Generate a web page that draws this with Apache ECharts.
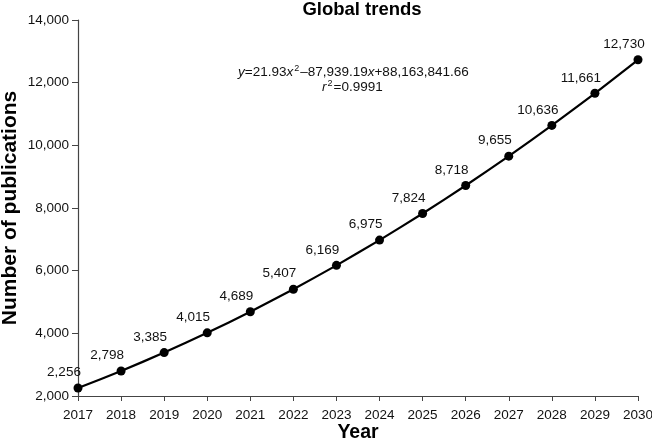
<!DOCTYPE html>
<html>
<head>
<meta charset="utf-8">
<script src="https://cdn.jsdelivr.net/npm/echarts@6/dist/echarts.min.js"></script>
<style>html,body{margin:0;padding:0;background:#fff}#c{width:652px;height:444px}</style>
</head>
<body>
<div id="c"></div>
<script>
const years = ['2017','2018','2019','2020','2021','2022','2023','2024','2025','2026','2027','2028','2029','2030'];
const publications = [2256, 2798, 3385, 4015, 4689, 5407, 6169, 6975, 7824, 8718, 9655, 10636, 11661, 12730];
const yMin = 2000, yMax = 14000, yStep = 2000;

const chart = echarts.init(document.getElementById('c'));
const font = 'Liberation Sans, Arial, sans-serif';
chart.setOption({
  animation: false,
  backgroundColor: '#fff',
  title: {
    text: 'Global trends', left: 357, top: -5, textAlign: 'center',
    textStyle: { fontFamily: font, fontWeight: 'bold', fontSize: 18.5, color: '#000' }
  },
  grid: { left: 78, right: 14, top: 20, bottom: 48, containLabel: false, outerBoundsMode: 'none' },
  xAxis: {
    type: 'category', data: years, boundaryGap: false,
    name: 'Year', nameLocation: 'middle', nameGap: 27, nameMoveOverlap: false,
    nameTextStyle: { fontFamily: font, fontWeight: 'bold', fontSize: 19.5, color: '#000' },
    axisLine: { lineStyle: { color: '#444', width: 1.2 } },
    axisTick: { show: true, length: 5, lineStyle: { color: '#444' }, alignWithLabel: true },
    axisLabel: { fontFamily: font, fontSize: 13.5, color: '#111', margin: 12, interval: 0 },
    splitLine: { show: false }
  },
  yAxis: {
    type: 'value', min: yMin, max: yMax, interval: yStep,
    name: 'Number of publications', nameLocation: 'middle', nameGap: 57, nameRotate: 90, nameMoveOverlap: false,
    nameTextStyle: { fontFamily: font, fontWeight: 'bold', fontSize: 21, color: '#000' },
    axisLine: { show: true, lineStyle: { color: '#444', width: 1.2 } },
    axisTick: { show: true, length: 6, lineStyle: { color: '#444' } },
    axisLabel: { fontFamily: font, fontSize: 13.5, color: '#111', margin: 9,
      formatter: v => v.toLocaleString('en-US') },
    splitLine: { show: false }
  },
  graphic: [{
    type: 'text', left: 238, top: 64,
    style: {
      text: '{i|y}=21.93{i|x}{s|2}–87,939.19{i|x}+88,163,841.66',
      fontFamily: font, fontSize: 13.5, fill: '#111',
      rich: {
        i: { fontStyle: 'italic', fontFamily: font, fontSize: 13.5, fill: '#111' },
        s: { fontSize: 9, fontFamily: font, fill: '#111', padding: [0, 1, 7, 1] }
      }
    }
  }, {
    type: 'text', left: 322, top: 79,
    style: {
      text: '{i|r}{s|2}=0.9991',
      fontFamily: font, fontSize: 13.5, fill: '#111',
      rich: {
        i: { fontStyle: 'italic', fontFamily: font, fontSize: 13.5, fill: '#111' },
        s: { fontSize: 9, fontFamily: font, fill: '#111', padding: [0, 1, 7, 1] }
      }
    }
  }],
  series: [{
    type: 'line', data: publications, smooth: 0.2,
    symbol: 'circle', symbolSize: 9,
    lineStyle: { color: '#000', width: 2.2 },
    itemStyle: { color: '#000' },
    label: {
      show: true, position: 'top', offset: [-14, 0], distance: 4,
      fontFamily: font, fontSize: 13.5, color: '#111',
      formatter: p => p.value.toLocaleString('en-US')
    }
  }]
});
</script>
</body>
</html>
